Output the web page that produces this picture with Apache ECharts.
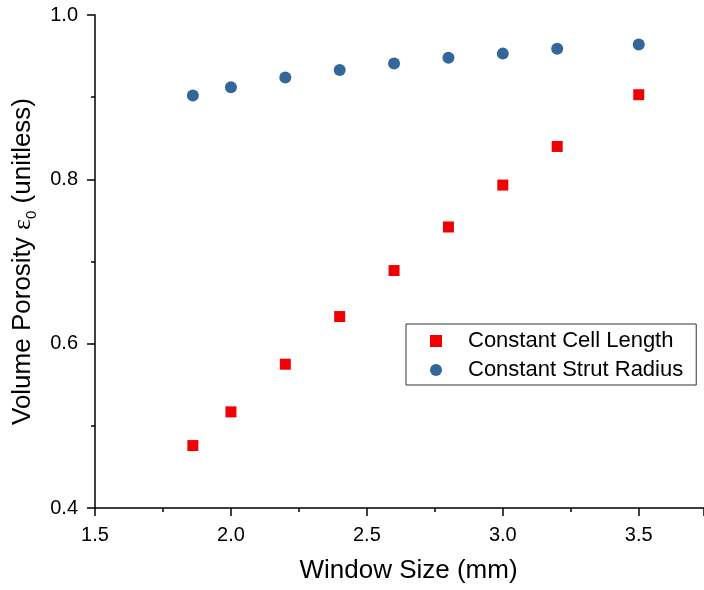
<!DOCTYPE html>
<html>
<head>
<meta charset="utf-8">
<script src="https://cdn.jsdelivr.net/npm/echarts@6/dist/echarts.min.js"></script>
<style>
  html, body { margin: 0; padding: 0; background: #fff; overflow: hidden; }
  #chart { width: 704px; height: 590px; }
</style>
</head>
<body>
<div id="chart"></div>
<script>
// Window sizes (mm) shared by both lattice families
const windowSize = [1.86, 2.0, 2.2, 2.4, 2.6, 2.8, 3.0, 3.2, 3.5];
// Volume porosity for each design rule
const constantCellLength = [0.476, 0.517, 0.575, 0.633, 0.689, 0.742, 0.793, 0.840, 0.903];
const constantStrutRadius = [0.902, 0.912, 0.924, 0.933, 0.941, 0.948, 0.953, 0.959, 0.964];
const seriesNames = ['Constant Cell Length', 'Constant Strut Radius'];

const font = '"Liberation Sans", Arial, sans-serif';
const pairs = (xs, ys) => xs.map((x, i) => [x, ys[i]]);

const chart = echarts.init(document.getElementById('chart'), null, { renderer: 'canvas' });

const axisCommon = {
  axisLine: { show: true, onZero: false, lineStyle: { color: '#000', width: 1.5 } },
  axisTick: { show: true, inside: false, length: 8, lineStyle: { color: '#000', width: 1.5 } },
  minorTick: { show: true, splitNumber: 2, length: 4, lineStyle: { color: '#000', width: 1.5 } },
  splitLine: { show: false },
  minorSplitLine: { show: false }
};

chart.setOption({
  animation: false,
  backgroundColor: '#fff',
  grid: { left: 95, right: 0, top: 15, bottom: 82, containLabel: false },
  xAxis: Object.assign({}, axisCommon, {
    type: 'value',
    min: 1.5,
    max: 3.74,
    interval: 0.5,
    name: 'Window Size (mm)',
    nameLocation: 'middle',
    nameGap: 50,
    // the title sits slightly right of the visible axis centre
    nameTextStyle: { fontFamily: font, fontSize: 26, color: '#000', padding: [0, 0, 0, 18] },
    axisLabel: {
      margin: 17,
      fontFamily: font,
      fontSize: 20,
      color: '#000',
      showMaxLabel: false,
      formatter: v => v.toFixed(1)
    }
  }),
  yAxis: Object.assign({}, axisCommon, {
    type: 'value',
    min: 0.4,
    max: 1.0,
    interval: 0.2,
    name: '{t|Volume Porosity }{e|ε}{s|0}{t| (unitless)}',
    nameLocation: 'middle',
    nameRotate: 90,
    nameGap: 53,
    nameTextStyle: {
      color: '#000',
      rich: {
        t: { fontFamily: font, fontSize: 26, color: '#000' },
        e: { fontFamily: '"Liberation Serif", serif', fontSize: 26, color: '#000' },
        s: { fontFamily: font, fontSize: 15, color: '#000', verticalAlign: 'bottom', padding: [0, 0, -3, 0] }
      }
    },
    axisLabel: {
      margin: 17,
      fontFamily: font,
      fontSize: 20,
      color: '#000',
      formatter: v => v.toFixed(1)
    }
  }),
  legend: {
    orient: 'vertical',
    left: 406,
    top: 324,
    padding: [6, 13, 4, 24],
    itemWidth: 12,
    itemHeight: 12,
    itemGap: 7,
    borderColor: '#333',
    borderWidth: 1,
    backgroundColor: '#fff',
    textStyle: { fontFamily: font, fontSize: 22, lineHeight: 22, color: '#000', padding: [0, 0, 0, 21] },
    data: [
      { name: seriesNames[0], icon: 'rect' },
      { name: seriesNames[1], icon: 'circle' }
    ]
  },
  series: [
    {
      name: seriesNames[0],
      type: 'scatter',
      symbol: 'rect',
      symbolSize: 11,
      itemStyle: { color: '#f00000', opacity: 1 },
      data: pairs(windowSize, constantCellLength)
    },
    {
      name: seriesNames[1],
      type: 'scatter',
      symbol: 'circle',
      symbolSize: 12,
      itemStyle: { color: '#336699', opacity: 1 },
      data: pairs(windowSize, constantStrutRadius)
    }
  ]
});
</script>
</body>
</html>
